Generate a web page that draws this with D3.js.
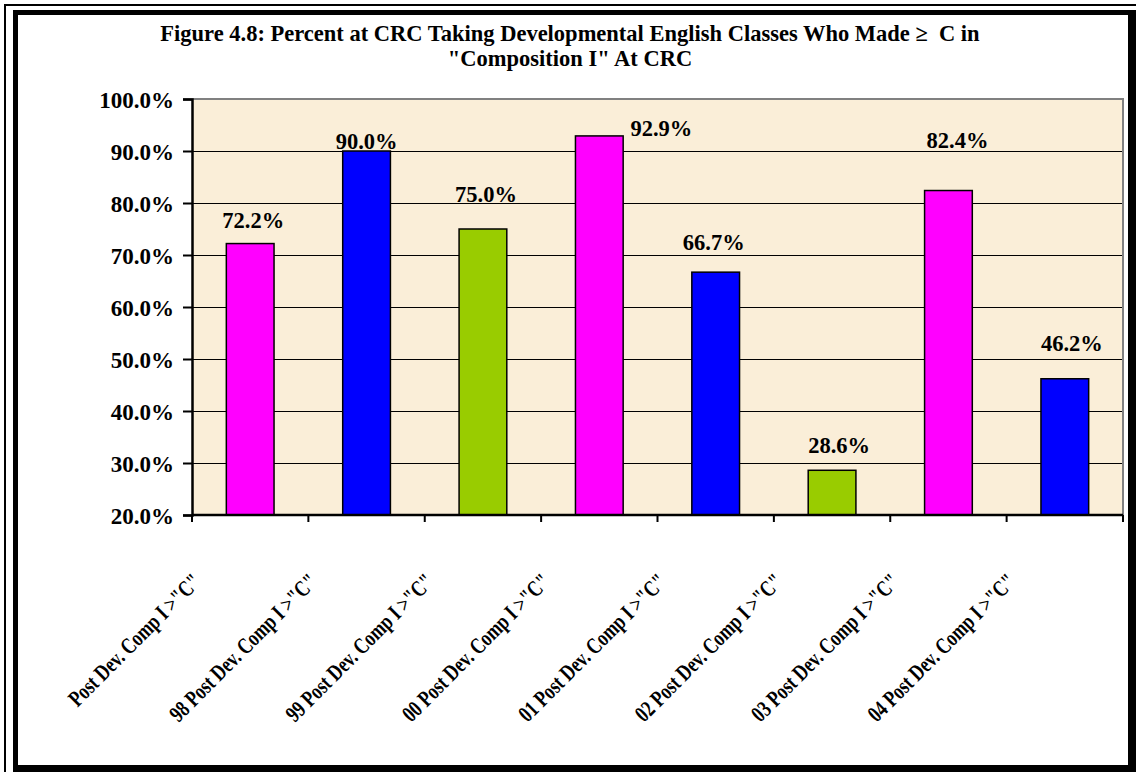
<!DOCTYPE html>
<html>
<head>
<meta charset="utf-8">
<script src="https://cdn.jsdelivr.net/npm/d3@7"></script>
<style>
  html, body { margin: 0; padding: 0; background: #ffffff; }
  svg { display: block; }
  text { font-family: "Liberation Serif", "Times New Roman", serif; font-weight: bold; fill: #000; }
</style>
</head>
<body>
<svg id="chart" width="1136" height="772"></svg>
<script>
// Chart data
const categories = [
  'Post Dev. Comp I >"C"',
  '98 Post Dev. Comp I >"C"',
  '99 Post Dev. Comp I >"C"',
  '00 Post Dev. Comp I >"C"',
  '01 Post Dev. Comp I >"C"',
  '02 Post Dev. Comp I >"C"',
  '03 Post Dev. Comp I >"C"',
  '04 Post Dev. Comp I >"C"'
];
const values = [72.2, 90.0, 75.0, 92.9, 66.7, 28.6, 82.4, 46.2];
const barColors = ["#FF00FF", "#0000FF", "#99CC00", "#FF00FF", "#0000FF", "#99CC00", "#FF00FF", "#0000FF"];
const yTicks = [20, 30, 40, 50, 60, 70, 80, 90, 100];
const titleLines = [
  "Figure 4.8: Percent at CRC Taking Developmental English Classes Who Made \u2265  C in",
  "\"Composition I\" At CRC"
];

// Hand-placed value label nudges (dx, dy from the bar top), as laid out in the sheet
const labelNudge = [[3, -16], [0, -2], [3, -27], [62, 0], [-2, -22], [7, -17], [9, -43], [7, -28]];

const svg = d3.select("#chart");

// Page frame: thin outer rule and heavy inner border
svg.append("rect").attr("x", 5).attr("y", 5).attr("width", 1200).attr("height", 900)
  .attr("fill", "none").attr("stroke", "#000").attr("stroke-width", 2);
svg.append("rect").attr("x", 13).attr("y", 10).attr("width", 1123).attr("height", 762).attr("fill", "#000");
svg.append("rect").attr("x", 18).attr("y", 15).attr("width", 1110).attr("height", 750).attr("fill", "#fff");

// Title
svg.selectAll("text.title").data(titleLines).enter().append("text")
  .attr("class", "title")
  .attr("x", 570).attr("y", (d, i) => 41 + i * 25)
  .attr("text-anchor", "middle")
  .style("font-size", "22.5px")
  .style("white-space", "pre")
  .attr("xml:space", "preserve")
  .text(d => d);

const plot = { left: 192, right: 1123, top: 99, bottom: 515 };

const x = d3.scaleBand().domain(categories)
  .range([plot.left, plot.right]).paddingInner(0.59).paddingOuter(0.295);
const y = d3.scaleLinear().domain([20, 100]).range([plot.bottom, plot.top]);

// Plot background
svg.append("rect")
  .attr("x", plot.left).attr("y", plot.top)
  .attr("width", plot.right - plot.left).attr("height", plot.bottom - plot.top)
  .attr("fill", "#FAEED8");

// Gridlines
svg.append("g").selectAll("line").data(yTicks.filter(t => t > 20 && t < 100)).enter().append("line")
  .attr("x1", plot.left).attr("x2", plot.right)
  .attr("y1", d => Math.round(y(d)) + 0.5).attr("y2", d => Math.round(y(d)) + 0.5)
  .attr("stroke", "#000").attr("stroke-width", 1);

// Plot border (top and right)
svg.append("path")
  .attr("d", `M${plot.left},${plot.top}H${plot.right}V${plot.bottom}`)
  .attr("fill", "none").attr("stroke", "#808080").attr("stroke-width", 2);

// Bars
svg.append("g").selectAll("rect").data(values).enter().append("rect")
  .attr("x", (d, i) => x(categories[i]))
  .attr("y", d => y(d))
  .attr("width", x.bandwidth())
  .attr("height", d => y(20) - y(d))
  .attr("fill", (d, i) => barColors[i])
  .attr("stroke", "#000").attr("stroke-width", 1.5);

// Y axis
const yAxis = d3.axisLeft(y).tickValues(yTicks).tickSize(9).tickPadding(9)
  .tickFormat(d => d3.format(".1f")(d) + "%");
const gy = svg.append("g").attr("transform", `translate(${plot.left},0)`).call(yAxis);
gy.select(".domain").attr("stroke", "#000").attr("stroke-width", 2.5);
gy.selectAll(".tick line").attr("stroke", "#000").attr("stroke-width", 2);
gy.selectAll(".tick text")
  .style("font-family", '"Liberation Serif", "Times New Roman", serif')
  .style("font-weight", "bold").style("font-size", "23px")
  .attr("dy", "0.36em");

// X axis: tick marks sit on category boundaries
const boundaries = categories.map((c, i) => plot.left + i * x.step()).concat([plot.right]);
svg.append("line")
  .attr("x1", plot.left).attr("x2", plot.right)
  .attr("y1", plot.bottom).attr("y2", plot.bottom)
  .attr("stroke", "#000").attr("stroke-width", 2.5);
svg.append("g").selectAll("line").data(boundaries).enter().append("line")
  .attr("x1", d => d).attr("x2", d => d)
  .attr("y1", plot.bottom).attr("y2", plot.bottom + 7)
  .attr("stroke", "#000").attr("stroke-width", 2);

// Rotated category labels
svg.append("g").selectAll("text").data(categories).enter().append("text")
  .attr("text-anchor", "end")
  .attr("transform", d => `translate(${x(d) + x.bandwidth() / 2 - 48},583) rotate(-45) scale(0.76,1)`)
  .style("font-size", "23px")
  .text(d => d);

// Value labels
svg.append("g").selectAll("text").data(values).enter().append("text")
  .attr("text-anchor", "middle")
  .attr("transform", (d, i) =>
    `translate(${x(categories[i]) + x.bandwidth() / 2 + labelNudge[i][0]},${y(d) + labelNudge[i][1]})`)
  .style("font-size", "22.5px")
  .text(d => d3.format(".1f")(d) + "%");
</script>
</body>
</html>
